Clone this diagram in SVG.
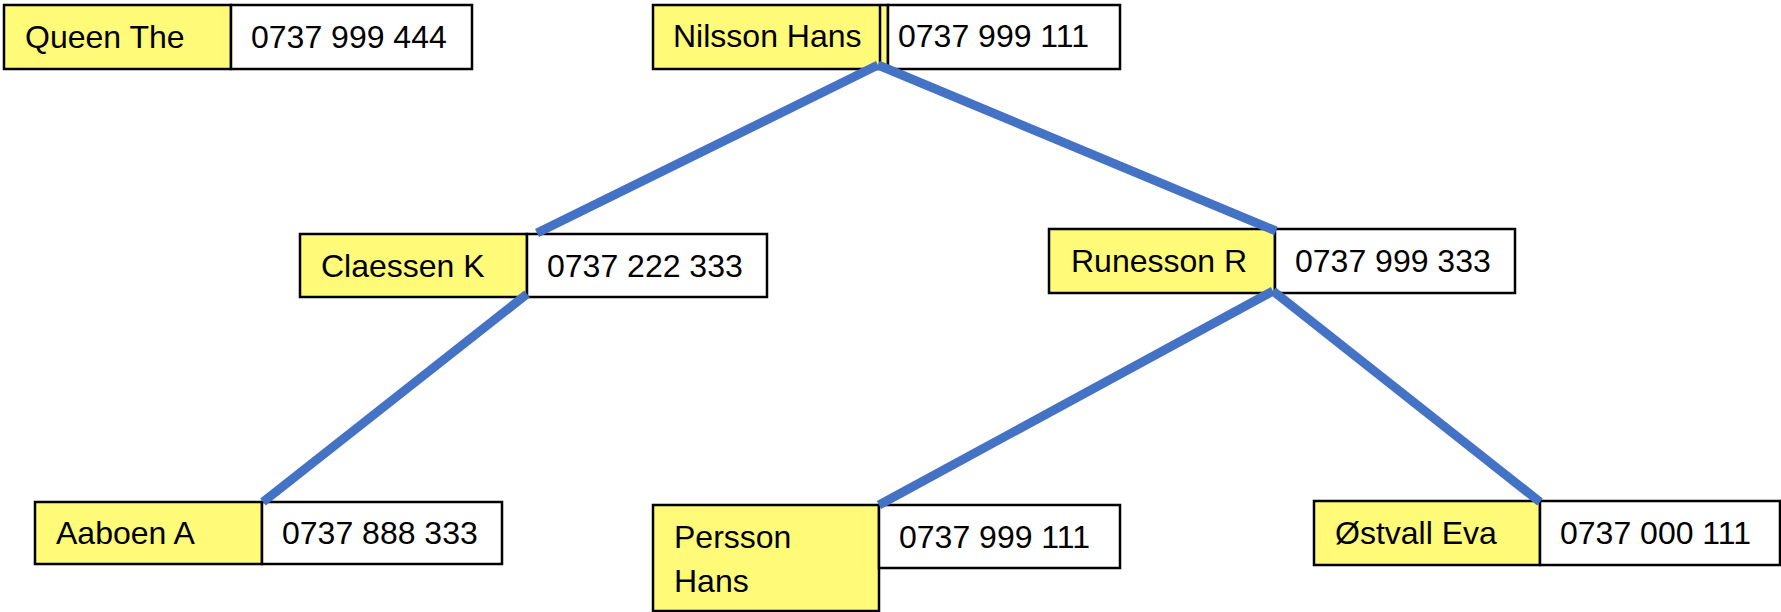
<svg xmlns="http://www.w3.org/2000/svg" width="1781" height="612" viewBox="0 0 1781 612">
<style>
.name{fill:#FFFA78;stroke:#000;stroke-width:2.5}
.tel{fill:#fff;stroke:#000;stroke-width:2.5}
text{font-family:"Liberation Sans",Arial,sans-serif;font-size:32px;fill:#000}
.conn line{stroke:#4472C4;stroke-width:9;stroke-linecap:butt}
</style>
<rect width="1781" height="612" fill="#fff"/>
<g id="queen">
<rect class="name" x="4" y="5" width="227" height="64"/>
<rect class="tel" x="231" y="5" width="241" height="64"/>
<text x="25" y="48">Queen The</text>
<text x="251" y="48">0737 999 444</text>
</g>
<g id="nilsson">
<rect class="name" x="653" y="5" width="235" height="64"/>
<line x1="880" y1="5" x2="880" y2="69" stroke="#000" stroke-width="2.5"/>
<rect class="tel" x="888" y="5" width="232" height="64"/>
<text x="673" y="47">Nilsson Hans</text>
<text x="898" y="47">0737 999 111</text>
</g>
<g id="claessen">
<rect class="name" x="300" y="234" width="227" height="63"/>
<rect class="tel" x="527" y="234" width="240" height="63"/>
<text x="321" y="277">Claessen K</text>
<text x="547" y="277">0737 222 333</text>
</g>
<g id="runesson">
<rect class="name" x="1049" y="229" width="226" height="64"/>
<rect class="tel" x="1275" y="229" width="240" height="64"/>
<text x="1071" y="272">Runesson R</text>
<text x="1295" y="272">0737 999 333</text>
</g>
<g id="aaboen">
<rect class="name" x="35" y="502" width="227" height="62"/>
<rect class="tel" x="262" y="502" width="240" height="62"/>
<text x="56" y="544">Aaboen A</text>
<text x="282" y="544">0737 888 333</text>
</g>
<g id="persson">
<rect class="name" x="653" y="505" width="226" height="106"/>
<rect class="tel" x="879" y="505" width="241" height="63"/>
<text x="674" y="548">Persson</text>
<text x="674" y="592">Hans</text>
<text x="899" y="548">0737 999 111</text>
</g>
<g id="ostvall">
<rect class="name" x="1314" y="501" width="226" height="64"/>
<rect class="tel" x="1540" y="501" width="240" height="64"/>
<text x="1335" y="544">Østvall Eva</text>
<text x="1560" y="544">0737 000 111</text>
</g>
<g id="connectors" class="conn">
<line x1="878" y1="65" x2="537" y2="233"/>
<line x1="878" y1="65" x2="1276" y2="231"/>
<line x1="527" y1="294" x2="263" y2="502"/>
<line x1="1273" y1="291" x2="879" y2="505"/>
<line x1="1273" y1="291" x2="1540" y2="502"/>
</g>
</svg>
